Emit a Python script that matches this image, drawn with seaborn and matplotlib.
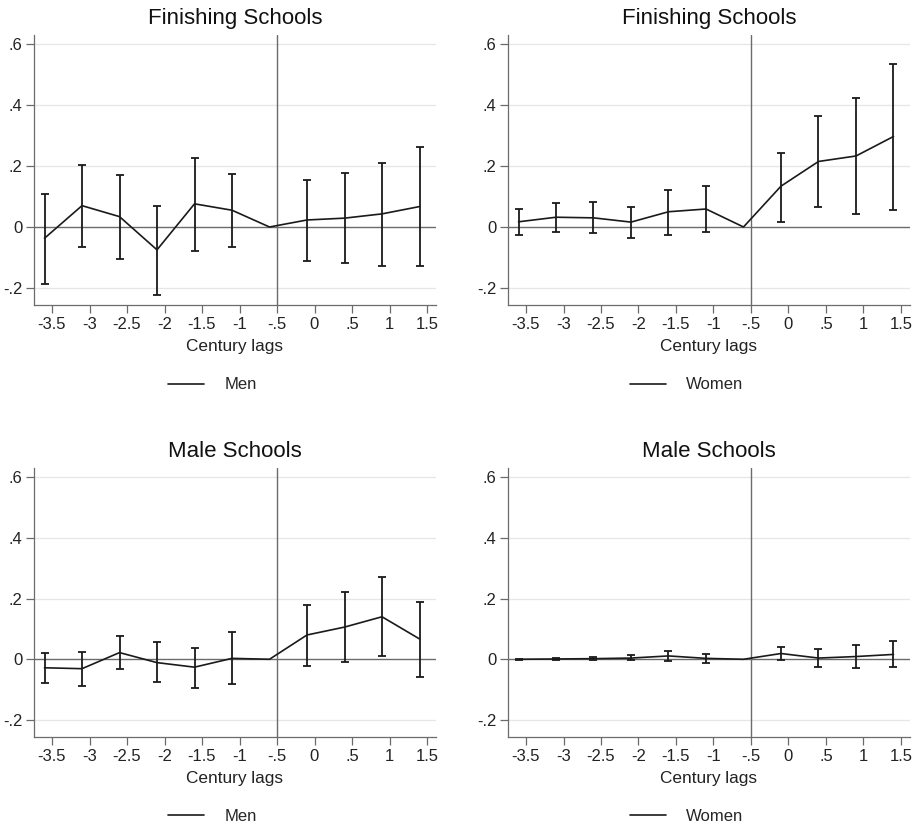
import numpy as np
import pandas as pd
import seaborn as sns
import matplotlib
matplotlib.use("Agg")
import matplotlib.pyplot as plt
from matplotlib.lines import Line2D

# ---- data ----
lags = [-3.6, -3.1, -2.6, -2.1, -1.6, -1.1, -0.6, -0.1, 0.4, 0.9, 1.4]

fin_men = [-0.037, 0.070, 0.034, -0.075, 0.076, 0.055, 0.0, 0.023, 0.029, 0.043, 0.067]
fin_men_hi = [0.109, 0.205, 0.170, 0.068, 0.228, 0.175, None, 0.155, 0.176, 0.210, 0.262]
fin_men_lo = [-0.187, -0.066, -0.105, -0.222, -0.079, -0.066, None, -0.110, -0.118, -0.128, -0.129]

fin_women = [0.017, 0.032, 0.030, 0.016, 0.050, 0.059, 0.0, 0.134, 0.215, 0.233, 0.297]
fin_women_hi = [0.058, 0.080, 0.082, 0.066, 0.123, 0.136, None, 0.242, 0.363, 0.422, 0.536]
fin_women_lo = [-0.025, -0.017, -0.021, -0.036, -0.026, -0.018, None, 0.018, 0.065, 0.041, 0.057]

male_men = [-0.028, -0.031, 0.022, -0.011, -0.026, 0.003, 0.0, 0.080, 0.106, 0.140, 0.067]
male_men_hi = [0.021, 0.025, 0.077, 0.057, 0.038, 0.089, None, 0.180, 0.221, 0.270, 0.189]
male_men_lo = [-0.077, -0.087, -0.033, -0.075, -0.094, -0.083, None, -0.022, -0.009, 0.012, -0.057]

male_women = [0.000, 0.001, 0.002, 0.004, 0.011, 0.003, 0.0, 0.019, 0.004, 0.009, 0.016]
male_women_hi = [0.002, 0.005, 0.008, 0.013, 0.026, 0.016, None, 0.042, 0.035, 0.046, 0.061]
male_women_lo = [-0.002, -0.003, -0.003, -0.004, -0.005, -0.011, None, -0.004, -0.026, -0.030, -0.026]

xticks = [-3.5, -3, -2.5, -2, -1.5, -1, -0.5, 0, 0.5, 1, 1.5]
xticklabels = ["-3.5", "-3", "-2.5", "-2", "-1.5", "-1", "-.5", "0", ".5", "1", "1.5"]
yticks = [-0.2, 0, 0.2, 0.4, 0.6]
yticklabels = ["-.2", "0", ".2", ".4", ".6"]

panels = [
    ("Finishing Schools", "Men", fin_men, fin_men_lo, fin_men_hi),
    ("Finishing Schools", "Women", fin_women, fin_women_lo, fin_women_hi),
    ("Male Schools", "Men", male_men, male_men_lo, male_men_hi),
    ("Male Schools", "Women", male_women, male_women_lo, male_women_hi),
]

sns.set_theme(style="white")
plt.rcParams['font.family'] = ['Liberation Sans', 'DejaVu Sans']

W, H = 916, 827
fig = plt.figure(figsize=(W / 100, H / 100), dpi=100)

# axes boxes in pixels: (left, top, right, bottom)
boxes = [(34, 35, 436, 305), (508, 35, 910, 305),
         (34, 468, 436, 737), (508, 468, 910, 737)]

grey = "#6b6b6b"
for (title, label, est, lo, hi), (l, t, r, b) in zip(panels, boxes):
    ax = fig.add_axes([l / W, 1 - b / H, (r - l) / W, (b - t) / H])
    df = pd.DataFrame({"lag": lags, "est": est, "lo": lo, "hi": hi})
    for y in [-0.2, 0.2, 0.4, 0.6]:
        ax.axhline(y, color="#e6e6e6", lw=0.9, zorder=0)
    ax.axhline(0, color=grey, lw=1.0, zorder=1)
    ax.axvline(-0.5, color=grey, lw=1.0, zorder=1)
    sns.lineplot(data=df, x="lag", y="est", ax=ax, color="#1a1a1a", lw=1.2,
                 sort=False, zorder=3, label=label)
    d = df.dropna()
    ax.errorbar(d["lag"], d["est"], yerr=[d["est"] - d["lo"], d["hi"] - d["est"]],
                fmt="none", ecolor="#1a1a1a", elinewidth=1.3, capsize=2.8,
                capthick=1.3, zorder=3)
    ax.set_xlim(-3.74, 1.62)
    ax.set_ylim(-0.256, 0.63)
    ax.set_xticks(xticks)
    ax.set_xticklabels(xticklabels)
    ax.set_yticks(yticks)
    ax.set_yticklabels(yticklabels)
    ax.tick_params(axis="both", which="major", direction="out", length=5.5,
                   width=0.9, color=grey, labelsize=12, labelcolor="#222222",
                   pad=3, bottom=True, left=True)
    for s in ["top", "right"]:
        ax.spines[s].set_visible(False)
    for s in ["left", "bottom"]:
        ax.spines[s].set_color(grey)
        ax.spines[s].set_linewidth(0.9)
    ax.set_xlabel("Century lags", fontsize=12.4, color="#222222", labelpad=5)
    ax.set_ylabel("")
    ax.set_title(title, fontsize=16, color="#111111", pad=8)
    ax.legend(handles=[Line2D([0], [0], color="#1a1a1a", lw=1.2)], labels=[label],
              loc="center", bbox_to_anchor=(0.444, -0.296),
              frameon=False, fontsize=12, handlelength=2.15, handletextpad=1.2)

fig.savefig("out.png", dpi=100)
